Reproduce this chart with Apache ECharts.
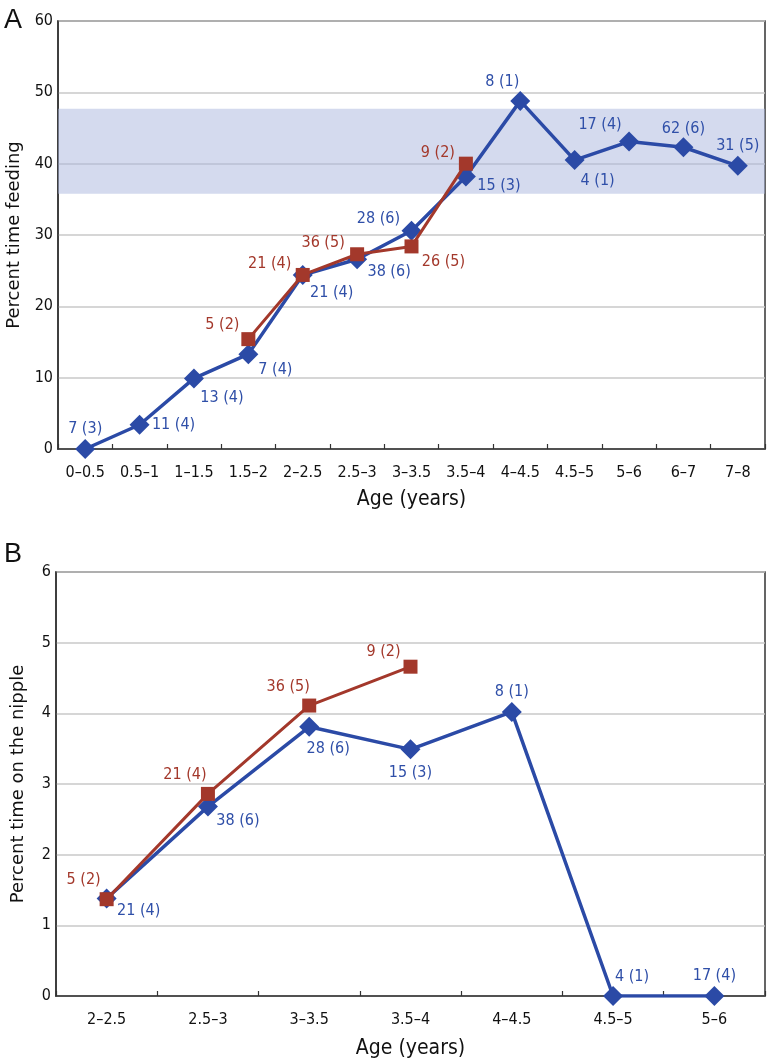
<!DOCTYPE html>
<html>
<head>
<meta charset="utf-8">
<script src="https://cdn.jsdelivr.net/npm/echarts@6/dist/echarts.min.js"></script>
<style>
html,body{margin:0;padding:0;background:#fff;}
#chart{width:768px;height:1061px;}
</style>
</head>
<body>
<div id="chart"></div>
<script>
// ---- Data ----
const catsA = ['0–0.5','0.5–1','1–1.5','1.5–2','2–2.5','2.5–3','3–3.5','3.5–4','4–4.5','4.5–5','5–6','6–7','7–8'];
const blueA = [0, 3.4, 9.9, 13.3, 24.4, 26.6, 30.6, 38.2, 48.8, 40.5, 43.1, 42.3, 39.7];
const redA  = [null, null, null, 15.4, 24.4, 27.3, 28.4, 40.0, null, null, null, null, null];
const blueALabels = ['7 (3)','11 (4)','13 (4)','7 (4)','21 (4)','38 (6)','28 (6)','15 (3)','8 (1)','4 (1)','17 (4)','62 (6)','31 (5)'];
const redALabels  = [null, null, null, '5 (2)','21 (4)','36 (5)','26 (5)','9 (2)', null, null, null, null, null];
const bandA = [35.8, 47.7];
const yTicksA = [0, 60, 10];

const catsB = ['2–2.5','2.5–3','3–3.5','3.5–4','4–4.5','4.5–5','5–6'];
const blueB = [1.38, 2.68, 3.81, 3.49, 4.02, 0, 0];
const redB  = [1.37, 2.86, 4.11, 4.66, null, null, null];
const blueBLabels = ['21 (4)','38 (6)','28 (6)','15 (3)','8 (1)','4 (1)','17 (4)'];
const redBLabels  = ['5 (2)','21 (4)','36 (5)','9 (2)', null, null, null];
const yTicksB = [0, 6, 1];

// ---- Label placement (pixel offsets from the marker centre) ----
const offBlueA = [[0,-20],[34,0],[28,19],[27,16],[29,18],[32,13],[-33,-12],[33,9],[-18,-19],[23,21],[-29,-17],[0,-18],[0,-20]];
const offRedA  = [null,null,null,[-26,-14],[-33,-11],[-34,-11],[32,15],[-28,-11],null,null,null,null,null];
const offBlueB = [[32,12],[30,14],[19,22],[0,23],[0,-20],[19,-19],[0,-20]];
const offRedB  = [[-23,-19],[-23,-19],[-21,-19],[-27,-15],null,null,null];

const BLUE = '#2b4aa6';
const LBLUE = '#2f4fa8';
const RED = '#a3382b';
const COND = "'DejaVu Sans Condensed', 'Liberation Sans', sans-serif";

function items(vals, labels, offs, color){
  return vals.map((v,i)=> v==null ? '-' : {
    value: v,
    name: labels[i],
    label: {show:true, position:'inside', offset: offs[i], color: color,
            fontFamily: COND, fontSize: 16, formatter: labels[i]}
  });
}

const chart = echarts.init(document.getElementById('chart'), null, {renderer:'canvas'});

const gridStyle = {show:true, borderColor:'#333', borderWidth:1.5, backgroundColor:'transparent',
                   containLabel:false, outerBoundsMode:'none'};
function xAx(cats, gi, name, nameGap){
  return {
    type:'category', data:cats, gridIndex:gi, boundaryGap:true,
    name:name, nameLocation:'middle', nameGap:nameGap,
    nameTextStyle:{fontFamily:COND, fontSize:21, color:'#111'},
    axisLine:{lineStyle:{color:'#333', width:1.5}},
    axisTick:{show:true, inside:true, length:5, interval:0, lineStyle:{color:'#333', width:1.2}},
    axisLabel:{interval:0, margin:16, fontFamily:COND, fontSize:16, color:'#111'},
    splitLine:{show:false}
  };
}
function yAx(t, gi, name, gap){
  return {
    type:'value', gridIndex:gi, min:t[0], max:t[1], interval:t[2],
    name:name, nameLocation:'middle', nameGap:gap,
    nameTextStyle:{fontFamily:'DejaVu Sans', fontSize:18, color:'#111'},
    axisLine:{show:true, lineStyle:{color:'#333', width:1.5}},
    axisTick:{show:false},
    axisLabel:{margin:5, fontFamily:COND, fontSize:16, color:'#111'},
    splitLine:{show:true, lineStyle:{color:'#c9c9c9', width:1.5}}
  };
}

const option = {
  animation:false,
  backgroundColor:'#fff',
  title:[
    {text:'A', left:-1, top:2, textStyle:{fontFamily:'Liberation Sans', fontSize:27, fontWeight:'normal', color:'#111'}},
    {text:'B', left:-1, top:536, textStyle:{fontFamily:'Liberation Sans', fontSize:27, fontWeight:'normal', color:'#111'}}
  ],
  grid:[
    Object.assign({left:58, top:21, width:707, height:428}, gridStyle),
    Object.assign({left:56, top:572, width:709, height:424}, gridStyle)
  ],
  xAxis:[ xAx(catsA, 0, 'Age (years)', 40), xAx(catsB, 1, 'Age (years)', 42) ],
  yAxis:[ yAx(yTicksA, 0, 'Percent time feeding', 29), yAx(yTicksB, 1, 'Percent time on the nipple', 29) ],
  series:[
    {
      type:'line', xAxisIndex:0, yAxisIndex:0, z:2,
      data: items(blueA, blueALabels, offBlueA, LBLUE),
      symbol:'diamond', symbolSize:20,
      lineStyle:{color:BLUE, width:3.5}, itemStyle:{color:BLUE},
      markArea:{silent:true, itemStyle:{color:'rgba(169,181,221,0.5)'},
        data:[[{yAxis:bandA[0]},{yAxis:bandA[1]}]]}
    },
    {
      type:'line', xAxisIndex:0, yAxisIndex:0, z:3,
      data: items(redA, redALabels, offRedA, RED),
      symbol:'rect', symbolSize:14,
      lineStyle:{color:RED, width:3}, itemStyle:{color:RED}
    },
    {
      type:'line', xAxisIndex:1, yAxisIndex:1, z:2,
      data: items(blueB, blueBLabels, offBlueB, LBLUE),
      symbol:'diamond', symbolSize:20,
      lineStyle:{color:BLUE, width:3.5}, itemStyle:{color:BLUE}
    },
    {
      type:'line', xAxisIndex:1, yAxisIndex:1, z:3,
      data: items(redB, redBLabels, offRedB, RED),
      symbol:'rect', symbolSize:14,
      lineStyle:{color:RED, width:3}, itemStyle:{color:RED}
    }
  ]
};
chart.setOption(option);
</script>
</body>
</html>
